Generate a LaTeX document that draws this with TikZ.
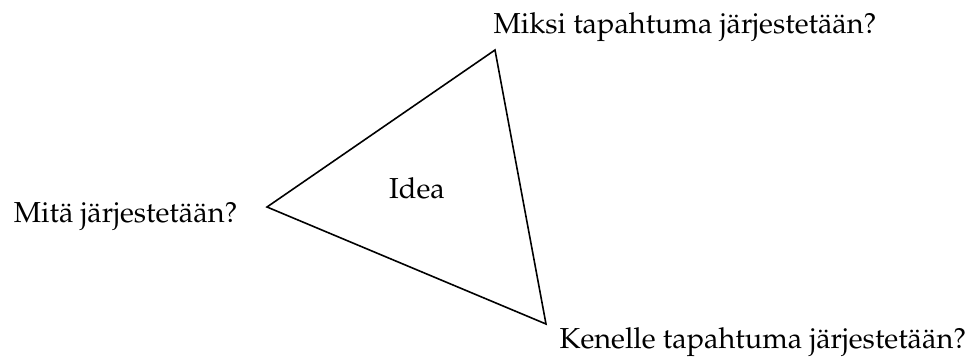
\documentclass[tikz,border=0pt]{standalone}
\usepackage[T1]{fontenc}
\usepackage{mathpazo}
\usetikzlibrary{positioning}

\begin{document}
\begin{tikzpicture}[
  x=0.01216cm, y=-0.01216cm,
  question/.style={inner sep=0pt},
  edge/.style={draw, line width=0.55pt, line join=miter},
]
  \useasboundingbox (0,0) rectangle (977,356);

  \coordinate (top) at (495,50);
  \coordinate (left) at (267,207);
  \coordinate (bottom) at (546,324);

  \draw[edge] (top) -- (left) -- (bottom) -- cycle;

  \node[anchor=base] (idea) at (417,198) {Idea};

  \node[question, anchor=base west] (why) at (493,33) {Miksi tapahtuma järjestetään?};
  \node[question, anchor=base east] (what) at (238,222) {Mitä järjestetään?};
  \node[question, anchor=base west] (whom) at (559,348) {Kenelle tapahtuma järjestetään?};
\end{tikzpicture}
\end{document}
